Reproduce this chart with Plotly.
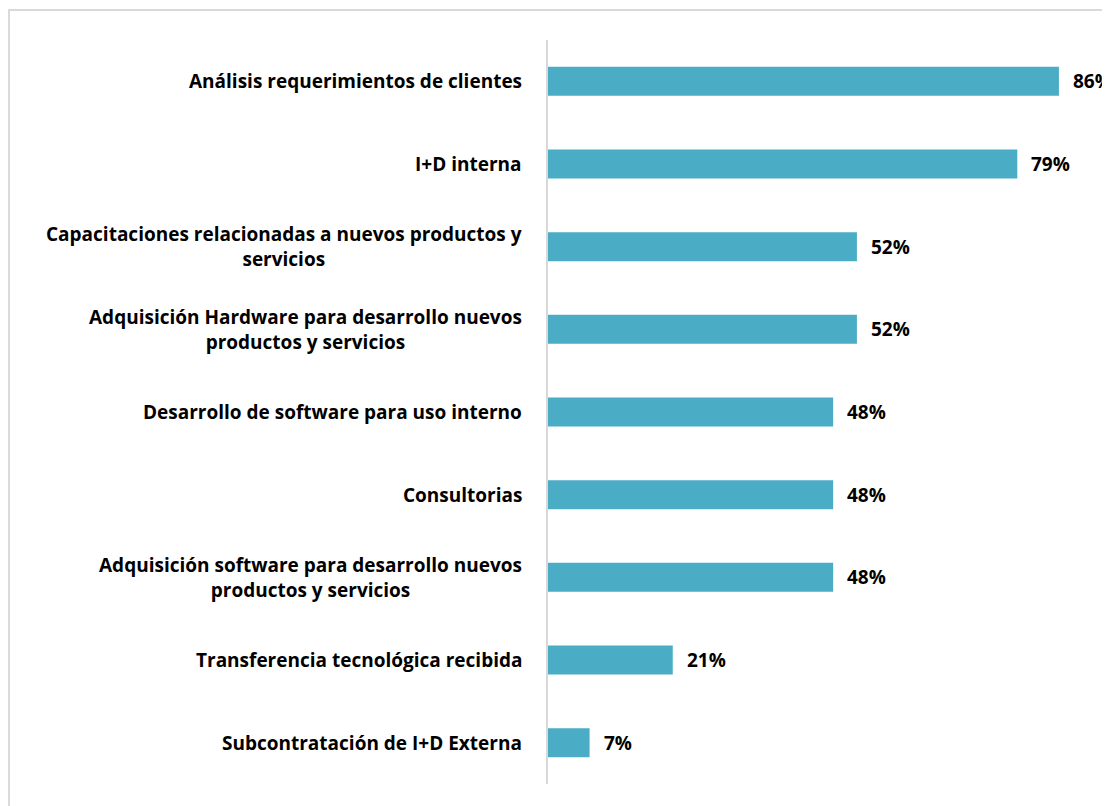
import plotly.graph_objects as go

categorias = [
    "Análisis requerimientos de clientes",
    "I+D interna",
    "Capacitaciones relacionadas a nuevos productos y<br>servicios",
    "Adquisición Hardware para desarrollo nuevos<br>productos y servicios",
    "Desarrollo de software para uso interno",
    "Consultorias",
    "Adquisición software para desarrollo nuevos<br>productos y servicios",
    "Transferencia tecnológica recibida",
    "Subcontratación de I+D Externa",
]
porcentajes = [86, 79, 52, 52, 48, 48, 48, 21, 7]
etiquetas = [f"{v}%" for v in porcentajes]

titulo = "Actividades de empresas estudiadas en el sector TIC - Argentina 2017"

fuente = "Open Sans, sans-serif"

fig = go.Figure()

fig.add_trace(go.Bar(
    x=porcentajes,
    y=categorias,
    orientation="h",
    marker=dict(color="#4bacc6", line=dict(width=0)),
    hoverinfo="skip",
))

# etiquetas de categorias (centradas como en Excel)
for cat in categorias:
    fig.add_annotation(
        x=0, xref="paper", y=cat, yref="y",
        text=f"<b>{cat}</b>", showarrow=False,
        xanchor="right", align="center", xshift=-24,
        font=dict(family=fuente, size=19, color="black"),
    )

# valores
for cat, v, t in zip(categorias, porcentajes, etiquetas):
    fig.add_annotation(
        x=v, y=cat, text=f"<b>{t}</b>", showarrow=False,
        xanchor="left", xshift=12,
        font=dict(family=fuente, size=19, color="black"),
    )

# titulo (recortado arriba en la imagen original)
fig.add_annotation(
    x=0, xref="paper", y=1, yref="paper", text=f"<b>{titulo}</b>",
    showarrow=False, xanchor="center", yanchor="middle",
    xshift=7, yshift=46,
    font=dict(family="Liberation Sans, Arial, sans-serif", size=20, color="black"),
)

# marco del grafico
fig.add_shape(
    type="rect", xref="paper", yref="paper",
    x0=-0.959, x1=1.2, y0=-0.2, y1=1.0403,
    line=dict(color="#d9d9d9", width=2), layer="below",
)

fig.update_layout(
    width=1102, height=798,
    margin=dict(l=540, r=0, t=32, b=22),
    plot_bgcolor="white", paper_bgcolor="white",
    showlegend=False,
    bargap=0.65,
    xaxis=dict(range=[0, 94.6], visible=False, fixedrange=True),
    yaxis=dict(
        autorange="reversed", showticklabels=False, showgrid=False,
        showline=True, linecolor="#d9d9d9", linewidth=2, ticks="",
        zeroline=False,
    ),
)

fig.write_html("out.html")
